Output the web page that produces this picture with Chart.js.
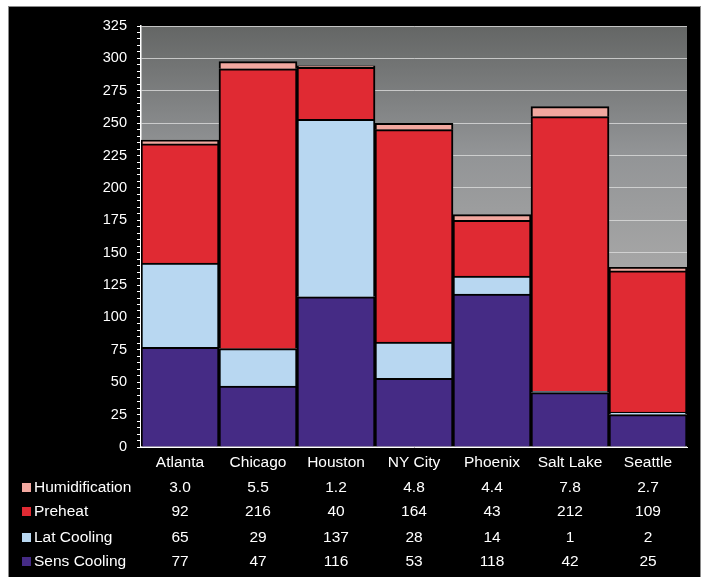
<!DOCTYPE html>
<html>
<head>
<meta charset="utf-8">
<script src="https://cdn.jsdelivr.net/npm/chart.js@4/dist/chart.umd.min.js"></script>
<style>
  html, body { margin: 0; padding: 0; background: #fff; }
  #wrap { width: 707px; height: 577px; }
</style>
</head>
<body>
<div id="wrap"><canvas id="grafico" width="707" height="577"></canvas></div>
<script>
const cidades = ["Atlanta", "Chicago", "Houston", "NY City", "Phoenix", "Salt Lake", "Seattle"];
const sensCooling = [77, 47, 116, 53, 118, 42, 25];
const latCooling = [65, 29, 137, 28, 14, 1, 2];
const preheat = [92, 216, 40, 164, 43, 212, 109];
const humidification = [3.0, 5.5, 1.2, 4.8, 4.4, 7.8, 2.7];
const yTicks = [0, 25, 50, 75, 100, 125, 150, 175, 200, 225, 250, 275, 300, 325];

const FONTE = "'Liberation Sans', Arial, sans-serif";

// fundo preto com moldura + degradê cinza na área do gráfico
const fundo = {
  id: "fundo",
  beforeDraw(chart) {
    const { ctx, chartArea: a } = chart;
    ctx.save();
    ctx.fillStyle = "#fff";
    ctx.fillRect(0, 0, chart.width, chart.height);
    ctx.fillStyle = "#000";
    ctx.fillRect(9, 7, 691, 570);
    ctx.strokeStyle = "#8a8a8a";
    ctx.lineWidth = 1;
    ctx.strokeRect(8.5, 6.5, 692, 572);
    const g = ctx.createLinearGradient(0, a.top, 0, a.bottom);
    g.addColorStop(0, "#646665");
    g.addColorStop(0.3, "#929496");
    g.addColorStop(0.57, "#a6a6a6");
    g.addColorStop(1, "#bcbcbc");
    ctx.fillStyle = g;
    ctx.fillRect(a.left, a.top, a.right - a.left, a.bottom - a.top);
    ctx.restore();
  }
};

// tabela de dados abaixo do eixo x, com a legenda à esquerda
const tabela = {
  id: "tabela",
  afterDraw(chart) {
    const { ctx } = chart;
    const xs = chart.scales.x;
    const linhas = [3, 2, 1, 0];
    const ys = [488, 512, 538, 562];
    ctx.save();
    ctx.font = "15.5px " + FONTE;
    ctx.textBaseline = "middle";
    linhas.forEach((di, r) => {
      const ds = chart.data.datasets[di];
      const y = ys[r];
      ctx.fillStyle = ds.backgroundColor;
      ctx.fillRect(22, y - 5, 9, 9);
      ctx.fillStyle = "#fff";
      ctx.textAlign = "left";
      ctx.fillText(ds.label, 34, y);
      ctx.textAlign = "center";
      ds.data.forEach((v, i) => {
        const txt = di === 3 ? v.toFixed(1) : String(v);
        ctx.fillText(txt, xs.getPixelForValue(i), y);
      });
    });
    ctx.restore();
  }
};

const borda = { borderColor: "#000", borderWidth: 2, barPercentage: 1, categoryPercentage: 1 };

new Chart(document.getElementById("grafico").getContext("2d"), {
  type: "bar",
  data: {
    labels: cidades,
    datasets: [
      { label: "Sens Cooling", data: sensCooling, backgroundColor: "#452b85", ...borda },
      { label: "Lat Cooling", data: latCooling, backgroundColor: "#b8d7f1", ...borda },
      { label: "Preheat", data: preheat, backgroundColor: "#e02a33", ...borda },
      { label: "Humidification", data: humidification, backgroundColor: "#f2a79f", ...borda }
    ]
  },
  options: {
    responsive: false,
    animation: false,
    layout: { padding: { left: 0, top: 26, right: 20, bottom: 0 } },
    plugins: {
      legend: { display: false },
      tooltip: { enabled: false }
    },
    scales: {
      x: {
        stacked: true,
        grid: { display: false, drawTicks: false },
        border: { display: true, color: "#fff", width: 1 },
        ticks: { color: "#fff", font: { family: FONTE, size: 15.5 }, padding: 6 },
        afterFit: s => { s.height = 130; }
      },
      y: {
        stacked: true,
        min: 0,
        max: 325,
        border: { display: true, color: "#fff", width: 1.5 },
        grid: {
          color: c => (c.tick && c.tick.value % 25 === 0 && c.tick.value > 0) ? "rgba(220,220,220,0.8)" : "rgba(0,0,0,0)",
          tickColor: "#fff",
          tickLength: 4,
          lineWidth: 1
        },
        ticks: {
          stepSize: 5,
          autoSkip: false,
          color: "#fff",
          padding: 10,
          font: { family: FONTE, size: 14.5 },
          callback: v => yTicks.includes(v) ? v : ""
        },
        afterFit: s => { s.width = 141; }
      }
    }
  },
  plugins: [fundo, tabela]
});
</script>
</body>
</html>
